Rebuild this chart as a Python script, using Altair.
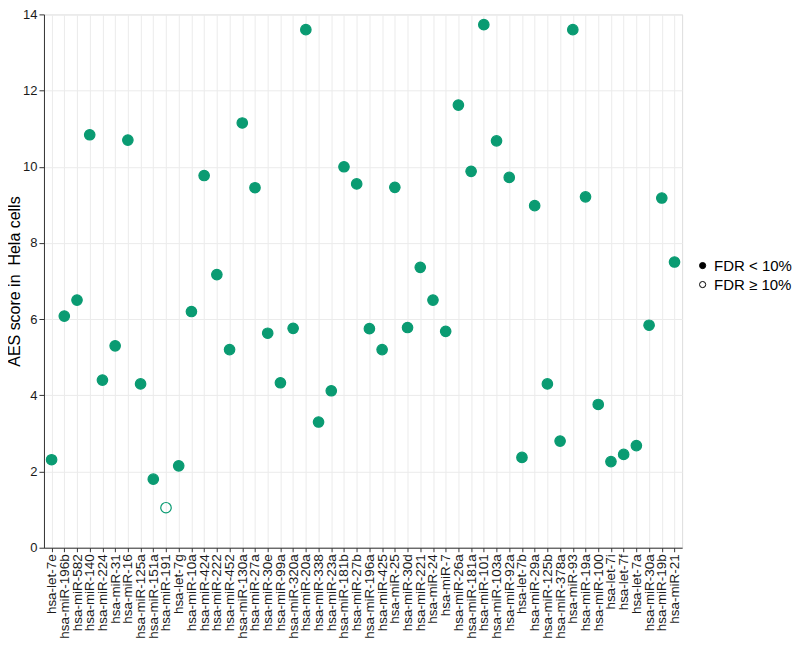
import altair as alt
import pandas as pd

mirnas = ["hsa-let-7e", "hsa-miR-196b", "hsa-miR-582", "hsa-miR-140", "hsa-miR-224",
          "hsa-miR-31", "hsa-miR-16", "hsa-miR-125a", "hsa-miR-151a", "hsa-miR-191",
          "hsa-let-7g", "hsa-miR-10a", "hsa-miR-424", "hsa-miR-222", "hsa-miR-452",
          "hsa-miR-130a", "hsa-miR-27a", "hsa-miR-30e", "hsa-miR-99a", "hsa-miR-320a",
          "hsa-miR-20a", "hsa-miR-338", "hsa-miR-23a", "hsa-miR-181b", "hsa-miR-27b",
          "hsa-miR-196a", "hsa-miR-425", "hsa-miR-25", "hsa-miR-30d", "hsa-miR-221",
          "hsa-miR-24", "hsa-miR-7", "hsa-miR-26a", "hsa-miR-181a", "hsa-miR-101",
          "hsa-miR-103a", "hsa-miR-92a", "hsa-let-7b", "hsa-miR-29a", "hsa-miR-125b",
          "hsa-miR-378a", "hsa-miR-93", "hsa-miR-19a", "hsa-miR-100", "hsa-let-7i",
          "hsa-let-7f", "hsa-let-7a", "hsa-miR-30a", "hsa-miR-19b", "hsa-miR-21"]

aes_scores = [2.31, 6.08, 6.50, 10.84, 4.40, 5.30, 10.70, 4.30, 1.80, 1.05,
              2.15, 6.20, 9.77, 7.17, 5.20, 11.15, 9.45, 5.63, 4.33, 5.76,
              13.60, 3.30, 4.12, 10.00, 9.55, 5.75, 5.20, 9.46, 5.78, 7.36,
              6.50, 5.68, 11.62, 9.88, 13.73, 10.68, 9.72, 2.37, 8.98, 4.30,
              2.80, 13.60, 9.21, 3.76, 2.26, 2.45, 2.68, 5.84, 9.18, 7.50]

fdr_levels = ["FDR < 10%", "FDR \u2265 10%"]
fdr_class = [fdr_levels[1] if m == "hsa-miR-191" else fdr_levels[0] for m in mirnas]

df = pd.DataFrame({"miRNA": mirnas, "AES": aes_scores, "FDR": fdr_class})

GREEN = "#0a9b72"

x_enc = alt.X("miRNA:N", sort=mirnas,
              scale=alt.Scale(type="point", padding=0.6),
              axis=alt.Axis(title=None, labelAngle=-90, labelFontSize=13.5,
                            labelColor="#1a1a1a", grid=True, gridColor="#ebebeb",
                            tickSize=4, tickColor="#333333", labelPadding=2,
                            domainColor="#333333"))
y_enc = alt.Y("AES:Q",
              scale=alt.Scale(domain=[0, 14], nice=False, zero=True),
              axis=alt.Axis(title="AES score in\u00a0 Hela cells", values=[0, 2, 4, 6, 8, 10, 12, 14],
                            titleFontSize=16, titleFontWeight="normal", titleColor="#000000",
                            labelFontSize=13, labelColor="#1a1a1a", grid=True,
                            gridColor="#ebebeb", tickSize=5, tickColor="#333333",
                            labelPadding=2, titlePadding=0, domainColor="#333333"))

points = alt.Chart(df).mark_point(filled=False, size=110, strokeWidth=1.2, opacity=1).encode(
    x=x_enc, y=y_enc,
    fill=alt.Fill("FDR:N", scale=alt.Scale(domain=fdr_levels, range=[GREEN, "transparent"]),
                  legend=None),
    stroke=alt.value(GREEN),
)

legend_layer = alt.Chart(df).transform_filter("false").mark_point(
    filled=False, size=38, strokeWidth=1, opacity=1
).encode(
    x=alt.X("miRNA:N", sort=mirnas),
    y=alt.Y("AES:Q"),
    fill=alt.Fill("FDR:N", scale=alt.Scale(domain=fdr_levels, range=["#000000", "#ffffff"]),
                  legend=alt.Legend(title=None, orient="none", legendX=652, legendY=244,
                                    labelFontSize=15, labelColor="#000000",
                                    symbolType="circle", symbolStrokeColor="#000000",
                                    symbolStrokeWidth=1, symbolSize=38, rowPadding=3,
                                    labelOffset=4, padding=0)),
    stroke=alt.value("#000000"),
)

chart = alt.layer(points, legend_layer).resolve_scale(fill="independent").properties(
    width=639, height=534,
    autosize=alt.AutoSizeParams(type="none"),
    padding={"left": 36, "top": 6, "right": 110, "bottom": 92},
).configure_view(stroke="#333333", strokeWidth=1).configure(font="Liberation Sans")

chart.save("out.html", embed_options={"renderer": "svg", "actions": False})
